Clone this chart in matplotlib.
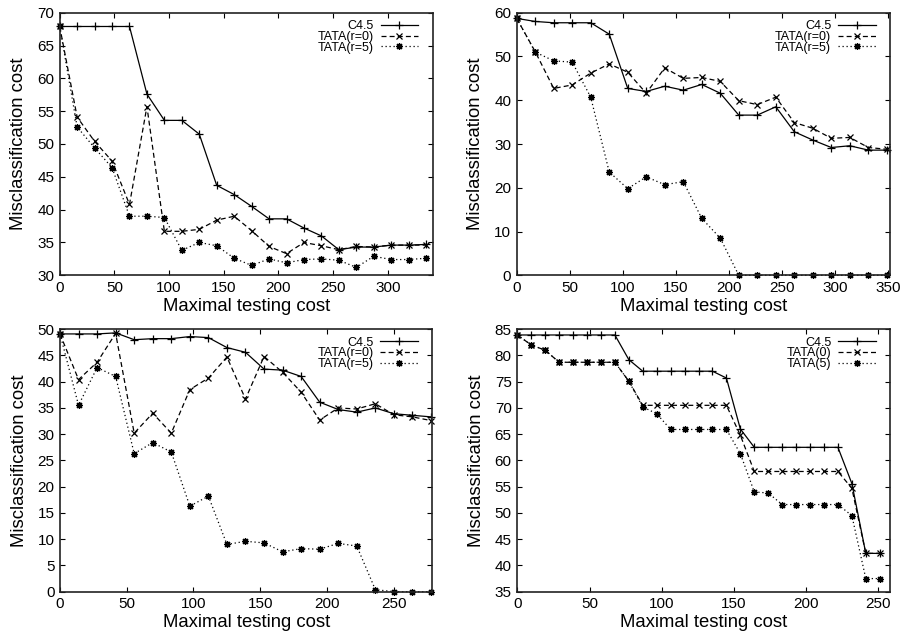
import matplotlib
matplotlib.use("Agg")
import matplotlib.pyplot as plt

plt.rcParams['font.family'] = ['Liberation Sans', 'DejaVu Sans']

# ---- Panel 1 (top-left) ----
x1 = [0, 15.95, 31.9, 47.85, 63.8, 79.75, 95.7, 111.65, 127.6, 143.55, 159.5,
      175.45, 191.4, 207.35, 223.3, 239.25, 255.2, 271.15, 287.1, 303.05, 319, 334.95]
c45_1 = [67.9, 67.9, 67.9, 67.9, 67.9, 57.6, 53.6, 53.6, 51.5, 43.7, 42.3,
         40.5, 38.6, 38.6, 37.2, 36.0, 33.9, 34.3, 34.3, 34.6, 34.6, 34.7]
t0_1 = [67.9, 54.1, 50.4, 47.4, 40.8, 55.7, 36.7, 36.7, 37.0, 38.4, 39.0,
        36.8, 34.4, 33.3, 35.0, 34.5, 33.9, 34.4, 34.3, 34.6, 34.6, 34.6]
t5_1 = [67.9, 52.6, 49.4, 46.4, 39.0, 39.0, 38.8, 33.8, 35.0, 34.5, 32.6,
        31.5, 32.5, 31.9, 32.4, 32.5, 32.3, 31.2, 32.9, 32.4, 32.4, 32.6]

# ---- Panel 2 (top-right) ----
x2 = [0, 17.45, 34.9, 52.35, 69.8, 87.25, 104.7, 122.15, 139.6, 157.05, 174.5,
      191.95, 209.4, 226.85, 244.3, 261.75, 279.2, 296.65, 314.1, 331.55, 349]
c45_2 = [58.7, 58.0, 57.7, 57.7, 57.7, 55.1, 42.7, 42.0, 43.2, 42.3, 43.6,
         41.6, 36.6, 36.6, 38.5, 32.8, 30.9, 29.2, 29.6, 28.6, 28.6]
t0_2 = [58.7, 51.1, 42.7, 43.5, 46.2, 48.3, 46.4, 41.6, 47.4, 45.0, 45.2,
        44.3, 39.9, 39.0, 40.7, 34.9, 33.6, 31.3, 31.5, 29.2, 28.8]
t5_2 = [58.7, 51.0, 49.0, 48.7, 40.7, 23.6, 19.8, 22.5, 20.7, 21.4, 13.0,
        8.5, 0, 0, 0, 0, 0, 0, 0, 0, 0]

# ---- Panel 3 (bottom-left) ----
x3 = [0, 13.9, 27.8, 41.7, 55.6, 69.5, 83.4, 97.3, 111.2, 125.1, 139.0,
      152.9, 166.8, 180.7, 194.6, 208.5, 222.4, 236.3, 250.2, 264.1, 278.0]
c45_3 = [49.1, 49.1, 49.1, 49.3, 48.0, 48.2, 48.2, 48.6, 48.4, 46.5, 45.6,
         42.4, 42.2, 41.0, 36.1, 34.7, 34.2, 35.0, 33.9, 33.6, 33.3]
t0_3 = [49.1, 40.4, 43.7, 49.2, 30.2, 34.0, 30.2, 38.5, 40.7, 44.7, 36.7,
        44.8, 41.8, 38.0, 32.7, 35.0, 34.8, 35.8, 33.7, 33.3, 32.6]
t5_3 = [49.1, 35.5, 42.7, 41.0, 26.3, 28.4, 26.6, 16.3, 18.2, 9.0, 9.6,
        9.3, 7.6, 8.2, 8.1, 9.2, 8.7, 0.4, 0, 0, 0]

# ---- Panel 4 (bottom-right) ----
x4 = [0, 9.65, 19.3, 28.95, 38.6, 48.25, 57.9, 67.55, 77.2, 86.85, 96.5,
      106.15, 115.8, 125.45, 135.1, 144.75, 154.4, 164.05, 173.7, 183.35, 193.0,
      202.65, 212.3, 221.95, 231.6, 241.25, 250.9]
c45_4 = [83.9, 83.9, 83.9, 83.9, 83.9, 83.9, 83.9, 83.9, 79.2, 77.0, 77.0,
         77.0, 77.0, 77.0, 77.0, 75.7, 66.0, 62.5, 62.5, 62.5, 62.5,
         62.5, 62.5, 62.5, 55.6, 42.3, 42.3]
t0_4 = [83.9, 82.0, 81.0, 78.7, 78.7, 78.7, 78.7, 78.7, 75.1, 70.5, 70.5,
        70.5, 70.5, 70.5, 70.5, 70.5, 64.8, 57.9, 57.9, 57.9, 57.9,
        57.9, 57.9, 57.9, 54.7, 42.3, 42.3]
t5_4 = [83.9, 82.0, 81.0, 78.7, 78.7, 78.7, 78.7, 78.7, 75.1, 70.2, 68.9,
        65.9, 65.9, 65.9, 65.9, 65.9, 61.3, 54.0, 53.8, 51.6, 51.6,
        51.6, 51.6, 51.6, 49.5, 37.5, 37.5]

labels_a = ["C4.5", "TATA(r=0)", "TATA(r=5)"]
labels_b = ["C4.5", "TATA(0)", "TATA(5)"]

panels = [
    dict(x=x1, ys=[c45_1, t0_1, t5_1], labels=labels_a, xlim=(0, 341), ylim=(30, 70),
         xticks=[0, 50, 100, 150, 200, 250, 300], yticks=[30, 35, 40, 45, 50, 55, 60, 65, 70]),
    dict(x=x2, ys=[c45_2, t0_2, t5_2], labels=labels_a, xlim=(0, 352), ylim=(0, 60),
         xticks=[0, 50, 100, 150, 200, 250, 300, 350], yticks=[0, 10, 20, 30, 40, 50, 60]),
    dict(x=x3, ys=[c45_3, t0_3, t5_3], labels=labels_a, xlim=(0, 279), ylim=(0, 50),
         xticks=[0, 50, 100, 150, 200, 250], yticks=[0, 5, 10, 15, 20, 25, 30, 35, 40, 45, 50]),
    dict(x=x4, ys=[c45_4, t0_4, t5_4], labels=labels_b, xlim=(0, 258), ylim=(35, 85),
         xticks=[0, 50, 100, 150, 200, 250], yticks=[35, 40, 45, 50, 55, 60, 65, 70, 75, 80, 85]),
]

W, H = 910, 636
fig = plt.figure(figsize=(W / 100, H / 100), dpi=100)

# axes boxes in pixels: left, right, top, bottom
boxes = [(59.7, 432.7, 12.7, 275.3), (516.7, 890.0, 12.7, 275.3),
         (60.0, 432.3, 329.2, 591.7), (517.3, 890.0, 329.2, 591.7)]

asterisk = (8, 2, 0)
styles = [
    dict(color='black', lw=0.9, ls='-', marker='+', ms=5.5, mew=0.9),
    dict(color='black', lw=0.9, ls=(0, (4, 2.5)), marker='x', ms=4.5, mew=0.9),
    dict(color='black', lw=0.9, ls=(0, (1, 2.2)), marker=asterisk, ms=5, mew=0.9),
]

for p, (l, r, t, b) in zip(panels, boxes):
    ax = fig.add_axes([l / W, 1 - b / H, (r - l) / W, (b - t) / H])
    for y, lab, st in zip(p['ys'], p['labels'], styles):
        ax.plot(p['x'], y, label=lab, clip_on=False, **st)
    ax.set_xlim(*p['xlim'])
    ax.set_ylim(*p['ylim'])
    ax.set_xticks(p['xticks'])
    ax.set_yticks(p['yticks'])
    ax.tick_params(direction='in', length=3.5, width=0.8, top=True, right=True,
                   labelsize=11, pad=4, colors='black')
    for s in ax.spines.values():
        s.set_linewidth(1.2)
        s.set_color('#222222')
    ax.set_xlabel("Maximal testing cost", fontsize=13.3, labelpad=2)
    ax.set_ylabel("Misclassification cost", fontsize=13.3, labelpad=7)
    bx = (r - 14.5 - l) / (r - l)
    by = 1 - 7.5 / (b - t)
    ax.legend(loc='upper right', bbox_to_anchor=(bx, by), frameon=False,
              markerfirst=False, fontsize=9, handlelength=3.0, handletextpad=0.55,
              labelspacing=-0.1, borderpad=0, borderaxespad=0)

fig.savefig("out.png", dpi=100)
